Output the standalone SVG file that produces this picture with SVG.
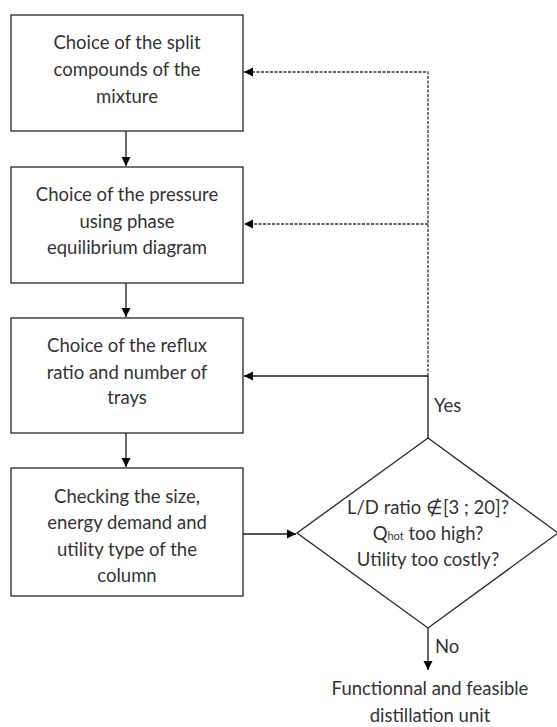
<svg xmlns="http://www.w3.org/2000/svg" width="557" height="727" viewBox="0 0 557 727">
<style>
.box{fill:#fff;stroke:#262626;stroke-width:1.3}
.t{font-family:Lato,"Liberation Sans",Arial,sans-serif;font-size:18.5px;fill:#333;text-anchor:middle}
.l{font-family:Lato,"Liberation Sans",Arial,sans-serif;font-size:18.5px;fill:#333}
.c{fill:none;stroke:#1a1a1a;stroke-width:1.3}
.d{fill:none;stroke:#333;stroke-width:1.3;stroke-dasharray:3 1.5}
</style>
<defs>
<marker id="ah" markerWidth="10" markerHeight="10" refX="9" refY="5" orient="auto" markerUnits="userSpaceOnUse">
<path d="M0,0.5 L9,5 L0,9.5 Z" fill="#000"/>
</marker>
</defs>
<rect width="557" height="727" fill="#fff"/>
<g id="connectors">
<line class="c" x1="126" y1="131" x2="126" y2="166" marker-end="url(#ah)"/>
<line class="c" x1="126" y1="283" x2="126" y2="317" marker-end="url(#ah)"/>
<line class="c" x1="126" y1="433" x2="126" y2="467" marker-end="url(#ah)"/>
<line class="c" x1="243" y1="534" x2="296" y2="534" marker-end="url(#ah)"/>
<line class="c" x1="428" y1="438" x2="428" y2="376"/>
<line class="c" x1="428" y1="376" x2="244" y2="376" marker-end="url(#ah)"/>
<path class="d" d="M428,376 L428,72 L244,72" marker-end="url(#ah)"/>
<line class="d" x1="428" y1="224" x2="244" y2="224" marker-end="url(#ah)"/>
<line class="c" x1="428" y1="628" x2="428" y2="670" marker-end="url(#ah)"/>
<text class="l" x="434" y="412">Yes</text>
<text class="l" x="435" y="653">No</text>
</g>
<g id="n1">
<rect class="box" x="11" y="15" width="232" height="116"/>
<text class="t" x="127" y="49">Choice of the split</text>
<text class="t" x="127" y="76">compounds of the</text>
<text class="t" x="127" y="103">mixture</text>
</g>
<g id="n2">
<rect class="box" x="11" y="167" width="232" height="116"/>
<text class="t" x="127" y="201">Choice of the pressure</text>
<text class="t" x="127" y="228">using phase</text>
<text class="t" x="127" y="254">equilibrium diagram</text>
</g>
<g id="n3">
<rect class="box" x="11" y="318" width="232" height="115"/>
<text class="t" x="127" y="352">Choice of the reflux</text>
<text class="t" x="127" y="379">ratio and number of</text>
<text class="t" x="127" y="404">trays</text>
</g>
<g id="n4">
<rect class="box" x="11" y="468" width="232" height="128"/>
<text class="t" x="127" y="503">Checking the size,</text>
<text class="t" x="127" y="529">energy demand and</text>
<text class="t" x="127" y="556">utility type of the</text>
<text class="t" x="127" y="582">column</text>
</g>
<g id="n5">
<polygon class="box" points="428,438 558,533 428,628 297,533"/>
<text class="t" x="428" y="514" font-size="17.5">L/D ratio ∉[3 ; 20]?</text>
<text class="t" x="428" y="540" font-size="17.5">Q<tspan font-size="11">hot</tspan> too high?</text>
<text class="t" x="428" y="566" font-size="17.5">Utility too costly?</text>
</g>
<g id="n6">
<text class="t" x="430" y="695">Functionnal and feasible</text>
<text class="t" x="430" y="722">distillation unit</text>
</g>
</svg>
